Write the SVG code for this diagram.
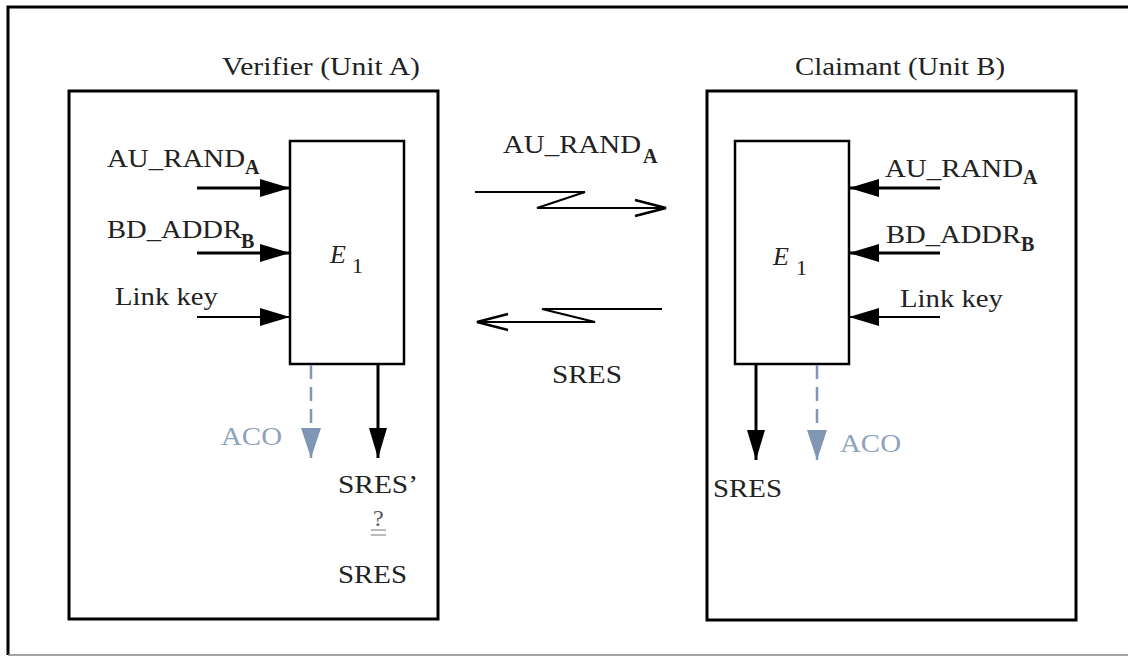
<svg xmlns="http://www.w3.org/2000/svg" width="1128" height="656" viewBox="0 0 1128 656">
<style>
text{font-family:"Liberation Serif","Times New Roman","DejaVu Serif",serif;fill:#222}
.t{font-size:26px}
.sub{font-size:20px;font-weight:bold}
.ei{font-size:26px;font-style:italic}
.en{font-size:22px}
.aco{fill:#8da2bd}
.box{fill:none;stroke:#000;stroke-width:3}
.e{fill:none;stroke:#000;stroke-width:2.5}
.in{stroke:#000;fill:none}
.out{stroke:#000;stroke-width:3;fill:none}
.dash{stroke:#7f97b5;stroke-width:2.5;stroke-dasharray:14 8;fill:none}
.msg{stroke:#000;stroke-width:2.2;fill:none;stroke-linejoin:miter}
</style>
<defs>
<marker id="ah" markerUnits="userSpaceOnUse" markerWidth="32" markerHeight="20" refX="30" refY="10" orient="auto">
<path d="M0,1 L30,10 L0,19 Z" fill="#000"/>
</marker>
<marker id="ahb" markerUnits="userSpaceOnUse" markerWidth="32" markerHeight="22" refX="30" refY="11" orient="auto">
<path d="M0,1 L30,11 L0,21 Z" fill="#7f97b5"/>
</marker>
<marker id="open" markerUnits="userSpaceOnUse" markerWidth="36" markerHeight="22" refX="33" refY="11" orient="auto">
<path d="M2,3 L33,11 L2,19" fill="none" stroke="#000" stroke-width="2.5"/>
</marker>
</defs>

<g id="frame">
<path d="M1130,7 H8 V655" fill="none" stroke="#000" stroke-width="3"/>
<line x1="8" y1="655" x2="1128" y2="655" stroke="#888" stroke-width="1.5"/>
</g>

<g id="verifier">
<rect class="box" x="69" y="91" width="369" height="528"/>
<text class="t" x="222" y="75" textLength="198" lengthAdjust="spacingAndGlyphs">Verifier (Unit A)</text>
</g>
<g id="verifier-e1">
<rect class="e" x="290" y="141" width="114" height="223"/>
<text class="ei" x="330" y="263">E</text>
<text class="en" x="352" y="273">1</text>
</g>
<g id="verifier-labels">
<text class="t" x="107" y="167" textLength="138" lengthAdjust="spacingAndGlyphs">AU_RAND</text>
<text class="sub" x="245" y="174">A</text>
<text class="t" x="107" y="238" textLength="135" lengthAdjust="spacingAndGlyphs">BD_ADDR</text>
<text class="sub" x="241" y="248">B</text>
<text class="t" x="115" y="305" textLength="103" lengthAdjust="spacingAndGlyphs">Link key</text>
<text class="t aco" x="221" y="445" textLength="61" lengthAdjust="spacingAndGlyphs">ACO</text>
<text class="t" x="338" y="493" textLength="80" lengthAdjust="spacingAndGlyphs">SRES’</text>
<text x="373" y="526" style="font-size:24px;fill:#555">?</text>
<line x1="371" y1="530" x2="386" y2="530" stroke="#777" stroke-width="1"/>
<line x1="371" y1="535" x2="386" y2="535" stroke="#777" stroke-width="1"/>
<text class="t" x="338" y="583" textLength="69" lengthAdjust="spacingAndGlyphs">SRES</text>
</g>

<g id="claimant">
<rect class="box" x="707" y="91" width="369" height="529"/>
<text class="t" x="795" y="75" textLength="210" lengthAdjust="spacingAndGlyphs">Claimant (Unit B)</text>
</g>
<g id="claimant-e1">
<rect class="e" x="735" y="141" width="114" height="223"/>
<text class="ei" x="773" y="265">E</text>
<text class="en" x="796" y="275">1</text>
</g>
<g id="claimant-labels">
<text class="t" x="885" y="177" textLength="138" lengthAdjust="spacingAndGlyphs">AU_RAND</text>
<text class="sub" x="1023" y="184">A</text>
<text class="t" x="886" y="243" textLength="135" lengthAdjust="spacingAndGlyphs">BD_ADDR</text>
<text class="sub" x="1021" y="251">B</text>
<text class="t" x="900" y="307" textLength="103" lengthAdjust="spacingAndGlyphs">Link key</text>
<text class="t" x="713" y="497" textLength="69" lengthAdjust="spacingAndGlyphs">SRES</text>
<text class="t aco" x="840" y="452" textLength="61" lengthAdjust="spacingAndGlyphs">ACO</text>
</g>

<g id="messages">
<text class="t" x="503" y="153" textLength="138" lengthAdjust="spacingAndGlyphs">AU_RAND</text>
<text class="sub" x="643" y="163">A</text>
<text class="t" x="552" y="383" textLength="70" lengthAdjust="spacingAndGlyphs">SRES</text>
</g>

<g id="connectors">
<line class="in" x1="197" y1="188" x2="290" y2="188" stroke-width="3" marker-end="url(#ah)"/>
<line class="in" x1="197" y1="253" x2="290" y2="253" stroke-width="3" marker-end="url(#ah)"/>
<line class="in" x1="197" y1="317" x2="290" y2="317" stroke-width="2" marker-end="url(#ah)"/>
<line class="dash" x1="311" y1="365" x2="311" y2="458" marker-end="url(#ahb)"/>
<line class="out" x1="378" y1="365" x2="378" y2="458" marker-end="url(#ah)"/>

<line class="in" x1="940" y1="188" x2="849" y2="188" stroke-width="3" marker-end="url(#ah)"/>
<line class="in" x1="940" y1="253" x2="849" y2="253" stroke-width="3" marker-end="url(#ah)"/>
<line class="in" x1="940" y1="317" x2="849" y2="317" stroke-width="2" marker-end="url(#ah)"/>
<line class="out" x1="756" y1="365" x2="756" y2="460" marker-end="url(#ah)"/>
<line class="dash" x1="817" y1="365" x2="817" y2="460" marker-end="url(#ahb)"/>

<path class="msg" d="M475,192 H585 L537,208 H666" marker-end="url(#open)"/>
<path class="msg" d="M662,309 H542 L595,322 H477" marker-end="url(#open)"/>
</g>
</svg>
